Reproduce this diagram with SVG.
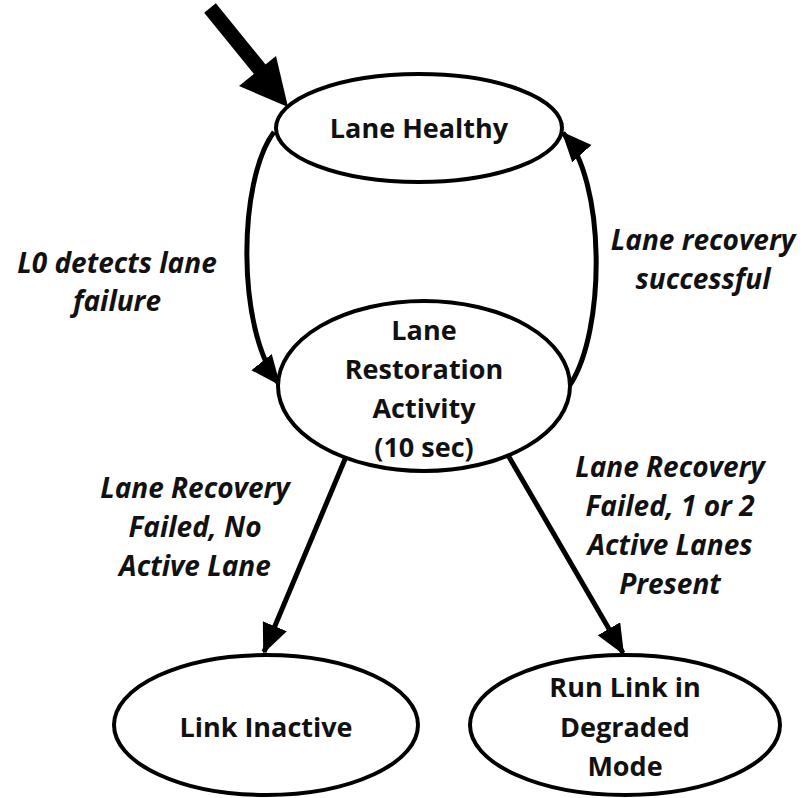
<svg xmlns="http://www.w3.org/2000/svg" width="803" height="798" viewBox="0 0 803 798">
<style>
.node ellipse{fill:#fff;stroke:#000;stroke-width:4}
.nt{font-family:"Open Sans","Liberation Sans",sans-serif;font-weight:bold;font-size:27px;fill:#111;text-anchor:middle}
.lt{font-family:"Open Sans","Liberation Sans",sans-serif;font-weight:bold;font-style:italic;font-size:28px;fill:#111;text-anchor:middle}
.edge{fill:none;stroke:#000;stroke-width:5}
</style>
<defs>
<marker id="ah" markerUnits="userSpaceOnUse" markerWidth="32" markerHeight="28" refX="28" refY="13" orient="auto" viewBox="0 0 32 28">
<path d="M0,0 L30,13 L0,26 Z" fill="#000"/>
</marker>
</defs>
<rect width="803" height="798" fill="#fff"/>
<g id="connectors">
<g id="start">
<line x1="210" y1="8" x2="262" y2="72" stroke="#000" stroke-width="15"/>
<polygon points="288,107 239,86 276,56" fill="#000"/>
</g>
<path class="edge" d="M274,132 C238,180 236,330 279,384" marker-end="url(#ah)"/>
<path class="edge" d="M570,385 C606,330 606,180 563,133" marker-end="url(#ah)"/>
<line class="edge" x1="348" y1="452" x2="264" y2="652" marker-end="url(#ah)"/>
<line class="edge" x1="505" y1="450" x2="623" y2="653" marker-end="url(#ah)"/>
</g>
<g id="lane-healthy" class="node">
<ellipse cx="419" cy="128" rx="143" ry="54"/>
<text class="nt" x="419" y="138">Lane Healthy</text>
</g>
<g id="lane-restoration" class="node">
<ellipse cx="424" cy="386" rx="146" ry="85"/>
<text class="nt" x="424" y="340">Lane</text>
<text class="nt" x="424" y="379">Restoration</text>
<text class="nt" x="424" y="418">Activity</text>
<text class="nt" x="424" y="457">(10 sec)</text>
</g>
<g id="link-inactive" class="node">
<ellipse cx="266" cy="725" rx="152" ry="70"/>
<text class="nt" x="266" y="737">Link Inactive</text>
</g>
<g id="degraded" class="node">
<ellipse cx="625" cy="725" rx="155" ry="70"/>
<text class="nt" x="625" y="697">Run Link in</text>
<text class="nt" x="625" y="737">Degraded</text>
<text class="nt" x="625" y="776">Mode</text>
</g>
<g id="labels">
<text class="lt" x="117" y="273">L0 detects lane</text>
<text class="lt" x="117" y="311">failure</text>
<text class="lt" x="703" y="250">Lane recovery</text>
<text class="lt" x="703" y="289">successful</text>
<text class="lt" x="195" y="498">Lane Recovery</text>
<text class="lt" x="195" y="537">Failed, No</text>
<text class="lt" x="195" y="576">Active Lane</text>
<text class="lt" x="670" y="477">Lane Recovery</text>
<text class="lt" x="670" y="516">Failed, 1 or 2</text>
<text class="lt" x="670" y="555">Active Lanes</text>
<text class="lt" x="670" y="594">Present</text>
</g>
</svg>
